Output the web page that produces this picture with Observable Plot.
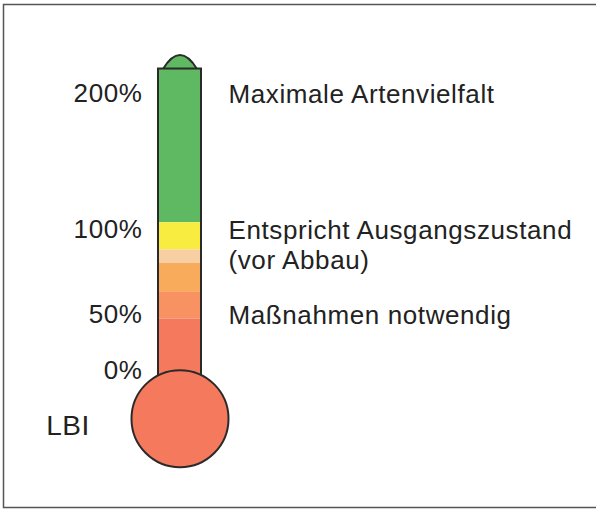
<!DOCTYPE html>
<html><head><meta charset="utf-8">
<script src="https://cdn.jsdelivr.net/npm/d3@7"></script>
<script src="https://cdn.jsdelivr.net/npm/@observablehq/plot@0.6"></script>
<style>body{margin:0;background:#fff;overflow:hidden} svg{max-width:none !important} svg text{letter-spacing:0.6px}</style>
</head><body><div id="chart"></div>
<script>
// Thermometer column
const tube = ["LBI"];
// Colour bands (percent, from bottom to top of each band)
const bandLow  = [105, 88, 80, 63, 46, -5];
const bandHigh = [218, 105, 88, 80, 63, 46];
const bandColors = ["#5fb962", "#f9ec40", "#f8cfa3", "#f8ab5a", "#f89263", "#f5795c"];
// Scale ticks
const tickValues = [200, 100, 50, 0];
const tickLabels = ["200%", "100%", "50%", "0%"];
// Annotations
const noteValues = [200, 100, 50];
const noteLabels = ["Maximale Artenvielfalt", "Entspricht Ausgangszustand\n(vor Abbau)", "Maßnahmen notwendig"];
// Tube ends, bulb and index label
const tubeTop = 218;
const tubeBottom = -5;
const bulbValue = -43;
const lbiValue = -50;
const lbiLabel = "LBI";

const bands = bandLow.map((lo, i) => ({lo, hi: bandHigh[i], color: bandColors[i]}));
const outline = "#2a2a2a";
const font = "Liberation Sans, Arial, sans-serif";

const dome = {
  draw(ctx, size) {
    const r = Math.sqrt(size / Math.PI);
    ctx.moveTo(-r, 0);
    ctx.quadraticCurveTo(0, -1.65 * r, r, 0);
    ctx.closePath();
  }
};

const chart = Plot.plot({
  width: 606,
  height: 509,
  marginLeft: 3,
  marginTop: 4,
  marginBottom: 2,
  marginRight: 0,
  x: {type: "band", domain: tube, range: [158, 201], padding: 0, axis: null},
  y: {type: "linear", domain: [0, 50, 100, 200], range: [370, 314, 229, 93], axis: null},
  color: {type: "identity"},
  marks: [
    Plot.frame({stroke: "#555", strokeWidth: 1.5}),
    Plot.dot([tubeTop], {x: () => tube[0], y: d => d, r: 17, symbol: dome, fill: bandColors[0], stroke: outline, strokeWidth: 2}),
    Plot.barY(bands, {x: () => tube[0], y1: "lo", y2: "hi", fill: "color"}),
    Plot.barY([{lo: tubeBottom, hi: tubeTop}], {x: () => tube[0], y1: "lo", y2: "hi", fill: "none", stroke: outline, strokeWidth: 2}),
    Plot.dot([bulbValue], {x: () => tube[0], y: d => d, r: 48.5, fill: bandColors[5], stroke: outline, strokeWidth: 2}),
    Plot.text(tickValues, {x: () => tube[0], y: d => d, text: (d, i) => tickLabels[i], textAnchor: "end", dx: -37.5, lineAnchor: "middle", fontSize: 26, fontFamily: font, fill: "#222"}),
    Plot.text(noteValues, {x: () => tube[0], y: d => d, text: (d, i) => noteLabels[i], textAnchor: "start", dx: 48.5, dy: -11.5, lineAnchor: "top", lineHeight: 1.15, fontSize: 26, fontFamily: font, fill: "#222"}),
    Plot.text([lbiValue], {x: () => tube[0], y: d => d, text: () => lbiLabel, textAnchor: "end", dx: -90, lineAnchor: "middle", fontSize: 28, fontFamily: font, fill: "#222"})
  ]
});
document.getElementById("chart").appendChild(chart);
</script>
</body></html>
